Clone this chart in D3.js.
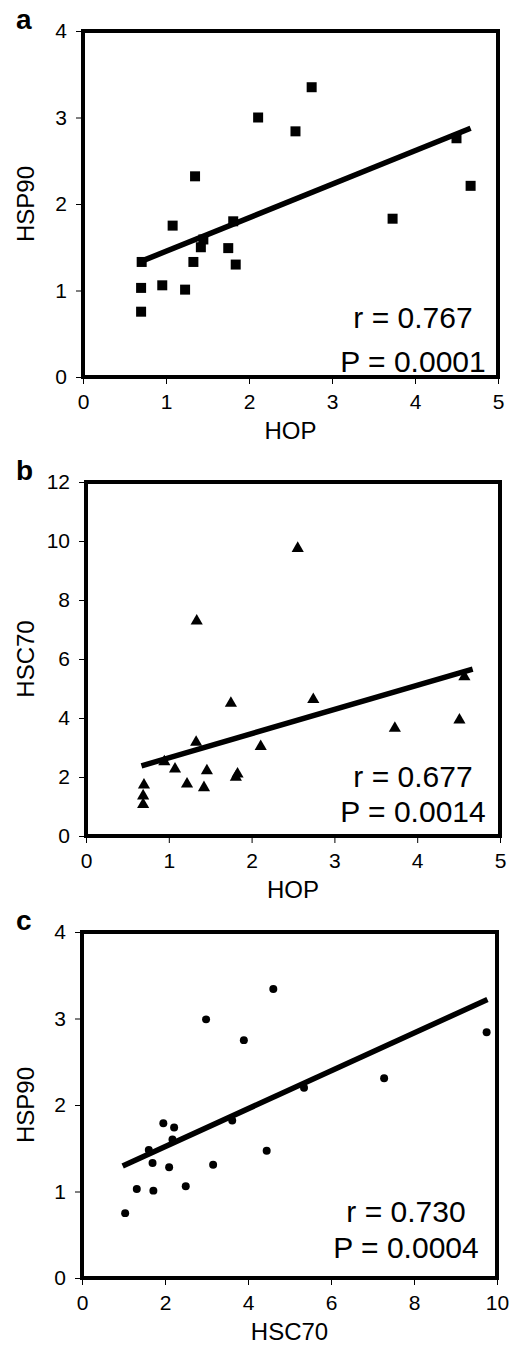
<!DOCTYPE html>
<html>
<head>
<meta charset="utf-8">
<script src="https://cdn.jsdelivr.net/npm/d3@7"></script>
<style>
  html, body { margin: 0; padding: 0; background: #fff; }
  svg { display: block; font-family: "Liberation Sans", Arial, sans-serif; }
  .tick text { font-size: 21px !important; fill: #000; }
</style>
</head>
<body>
<svg id="chart" width="518" height="1345"></svg>
<script>
// ---- Data ----
// Panel a: HOP vs HSP90
const hopA    = [2.755, 2.11, 2.56, 4.50, 1.35, 4.67, 1.08, 1.81, 3.73, 1.45, 1.42, 1.75, 0.707, 1.33, 1.84, 0.70, 0.955, 1.23, 0.70];
const hsp90A  = [3.35, 3.00, 2.84, 2.76, 2.32, 2.21, 1.75, 1.80, 1.83, 1.59, 1.50, 1.49, 1.33, 1.33, 1.30, 1.03, 1.06, 1.01, 0.755];
const fitAx   = [0.707, 4.67];
const fitAy   = [1.34, 2.875];
const statsA  = ["r = 0.767", "P = 0.0001"];
const xTicksA = [0, 1, 2, 3, 4, 5];
const yTicksA = [0, 1, 2, 3, 4];

// Panel b: HOP vs HSC70
const hopB    = [2.557, 1.337, 4.57, 2.745, 1.75, 3.73, 4.51, 1.33, 2.11, 0.946, 1.075, 1.46, 1.83, 1.81, 1.22, 1.425, 0.70, 0.69, 0.69];
const hsc70B  = [9.75, 7.29, 5.40, 4.63, 4.50, 3.65, 3.93, 3.18, 3.03, 2.52, 2.27, 2.21, 2.10, 1.99, 1.76, 1.64, 1.73, 1.36, 1.07];
const fitBx   = [0.67, 4.67];
const fitBy   = [2.38, 5.66];
const statsB  = ["r = 0.677", "P = 0.0014"];
const xTicksB = [0, 1, 2, 3, 4, 5];
const yTicksB = [0, 2, 4, 6, 8, 10, 12];

// Panel c: HSC70 vs HSP90
const hsc70C  = [4.61, 2.99, 3.90, 9.75, 7.28, 5.35, 1.96, 2.22, 3.62, 2.18, 1.61, 4.45, 1.70, 2.10, 3.16, 1.32, 1.72, 2.50, 1.04];
const hsp90C  = [3.34, 2.99, 2.75, 2.84, 2.31, 2.20, 1.79, 1.74, 1.82, 1.60, 1.48, 1.47, 1.33, 1.28, 1.31, 1.03, 1.01, 1.06, 0.75];
const fitCx   = [0.98, 9.77];
const fitCy   = [1.295, 3.22];
const statsC  = ["r = 0.730", "P = 0.0004"];
const xTicksC = [0, 2, 4, 6, 8, 10];
const yTicksC = [0, 1, 2, 3, 4];

// ---- Layout ----
const panels = [
  { label: "a", xs: hopA, ys: hsp90A, fx: fitAx, fy: fitAy, stats: statsA,
    xTicks: xTicksA, yTicks: yTicksA, xTitle: "HOP", yTitle: "HSP90", shape: "square",
    left: 83, right: 498, top: 31, bottom: 377, statX: 413, statY: [328, 372] },
  { label: "b", xs: hopB, ys: hsc70B, fx: fitBx, fy: fitBy, stats: statsB,
    xTicks: xTicksB, yTicks: yTicksB, xTitle: "HOP", yTitle: "HSC70", shape: "triangle",
    left: 86, right: 500, top: 482, bottom: 836, statX: 413, statY: [787, 822] },
  { label: "c", xs: hsc70C, ys: hsp90C, fx: fitCx, fy: fitCy, stats: statsC,
    xTicks: xTicksC, yTicks: yTicksC, xTitle: "HSC70", yTitle: "HSP90", shape: "circle",
    left: 82, right: 497, top: 932, bottom: 1278, statX: 406, statY: [1222, 1258] }
];

const svg = d3.select("#chart");

panels.forEach(p => {
  const x = d3.scaleLinear()
    .domain([p.xTicks[0], p.xTicks[p.xTicks.length - 1]])
    .range([p.left, p.right]);
  const y = d3.scaleLinear()
    .domain([p.yTicks[0], p.yTicks[p.yTicks.length - 1]])
    .range([p.bottom, p.top]);

  const g = svg.append("g");

  // axes
  const xAxis = g.append("g")
    .attr("transform", `translate(0,${p.bottom})`)
    .call(d3.axisBottom(x).tickValues(p.xTicks).tickSize(7).tickPadding(10).tickFormat(d3.format("d")));
  const yAxis = g.append("g")
    .attr("transform", `translate(${p.left},0)`)
    .call(d3.axisLeft(y).tickValues(p.yTicks).tickSize(7).tickPadding(9).tickFormat(d3.format("d")));
  [xAxis, yAxis].forEach(a => {
    a.attr("font-size", 21).attr("font-family", '"Liberation Sans", Arial, sans-serif');
    a.select(".domain").remove();
    a.selectAll(".tick line").attr("stroke", "#000").attr("stroke-width", 1);
    a.selectAll(".tick text").attr("fill", "#000").attr("font-size", 21);
  });

  // frame
  g.append("rect")
    .attr("x", p.left).attr("y", p.top)
    .attr("width", p.right - p.left).attr("height", p.bottom - p.top)
    .attr("fill", "none").attr("stroke", "#000").attr("stroke-width", 4);

  // fit line
  g.append("line")
    .attr("x1", x(p.fx[0])).attr("y1", y(p.fy[0]))
    .attr("x2", x(p.fx[1])).attr("y2", y(p.fy[1]))
    .attr("stroke", "#000").attr("stroke-width", 5.5);

  // points
  const pts = p.xs.map((v, i) => [v, p.ys[i]]);
  let sym;
  if (p.shape === "square") sym = d3.symbol().type(d3.symbolSquare).size(100);
  else if (p.shape === "triangle") sym = d3.symbol().type(d3.symbolTriangle).size(64);
  else sym = d3.symbol().type(d3.symbolCircle).size(50);
  g.append("g").selectAll("path").data(pts).join("path")
    .attr("d", sym)
    .attr("transform", d => `translate(${x(d[0])},${y(d[1])})`)
    .attr("fill", "#000");

  // stats text
  p.stats.forEach((s, i) => {
    g.append("text")
      .attr("x", p.statX).attr("y", p.statY[i])
      .attr("text-anchor", "middle")
      .attr("font-size", 30)
      .attr("fill", "#000")
      .text(s);
  });

  // axis titles
  g.append("text")
    .attr("x", (p.left + p.right) / 2).attr("y", p.bottom + 62)
    .attr("text-anchor", "middle")
    .attr("font-size", 24)
    .text(p.xTitle);
  g.append("text")
    .attr("transform", `translate(34,${(p.top + p.bottom) / 2}) rotate(-90)`)
    .attr("text-anchor", "middle")
    .attr("font-size", 24)
    .text(p.yTitle);

  // panel label
  g.append("text")
    .attr("x", 16).attr("y", p.top - 2)
    .attr("font-size", 28).attr("font-weight", "bold")
    .text(p.label);
});
</script>
</body>
</html>
